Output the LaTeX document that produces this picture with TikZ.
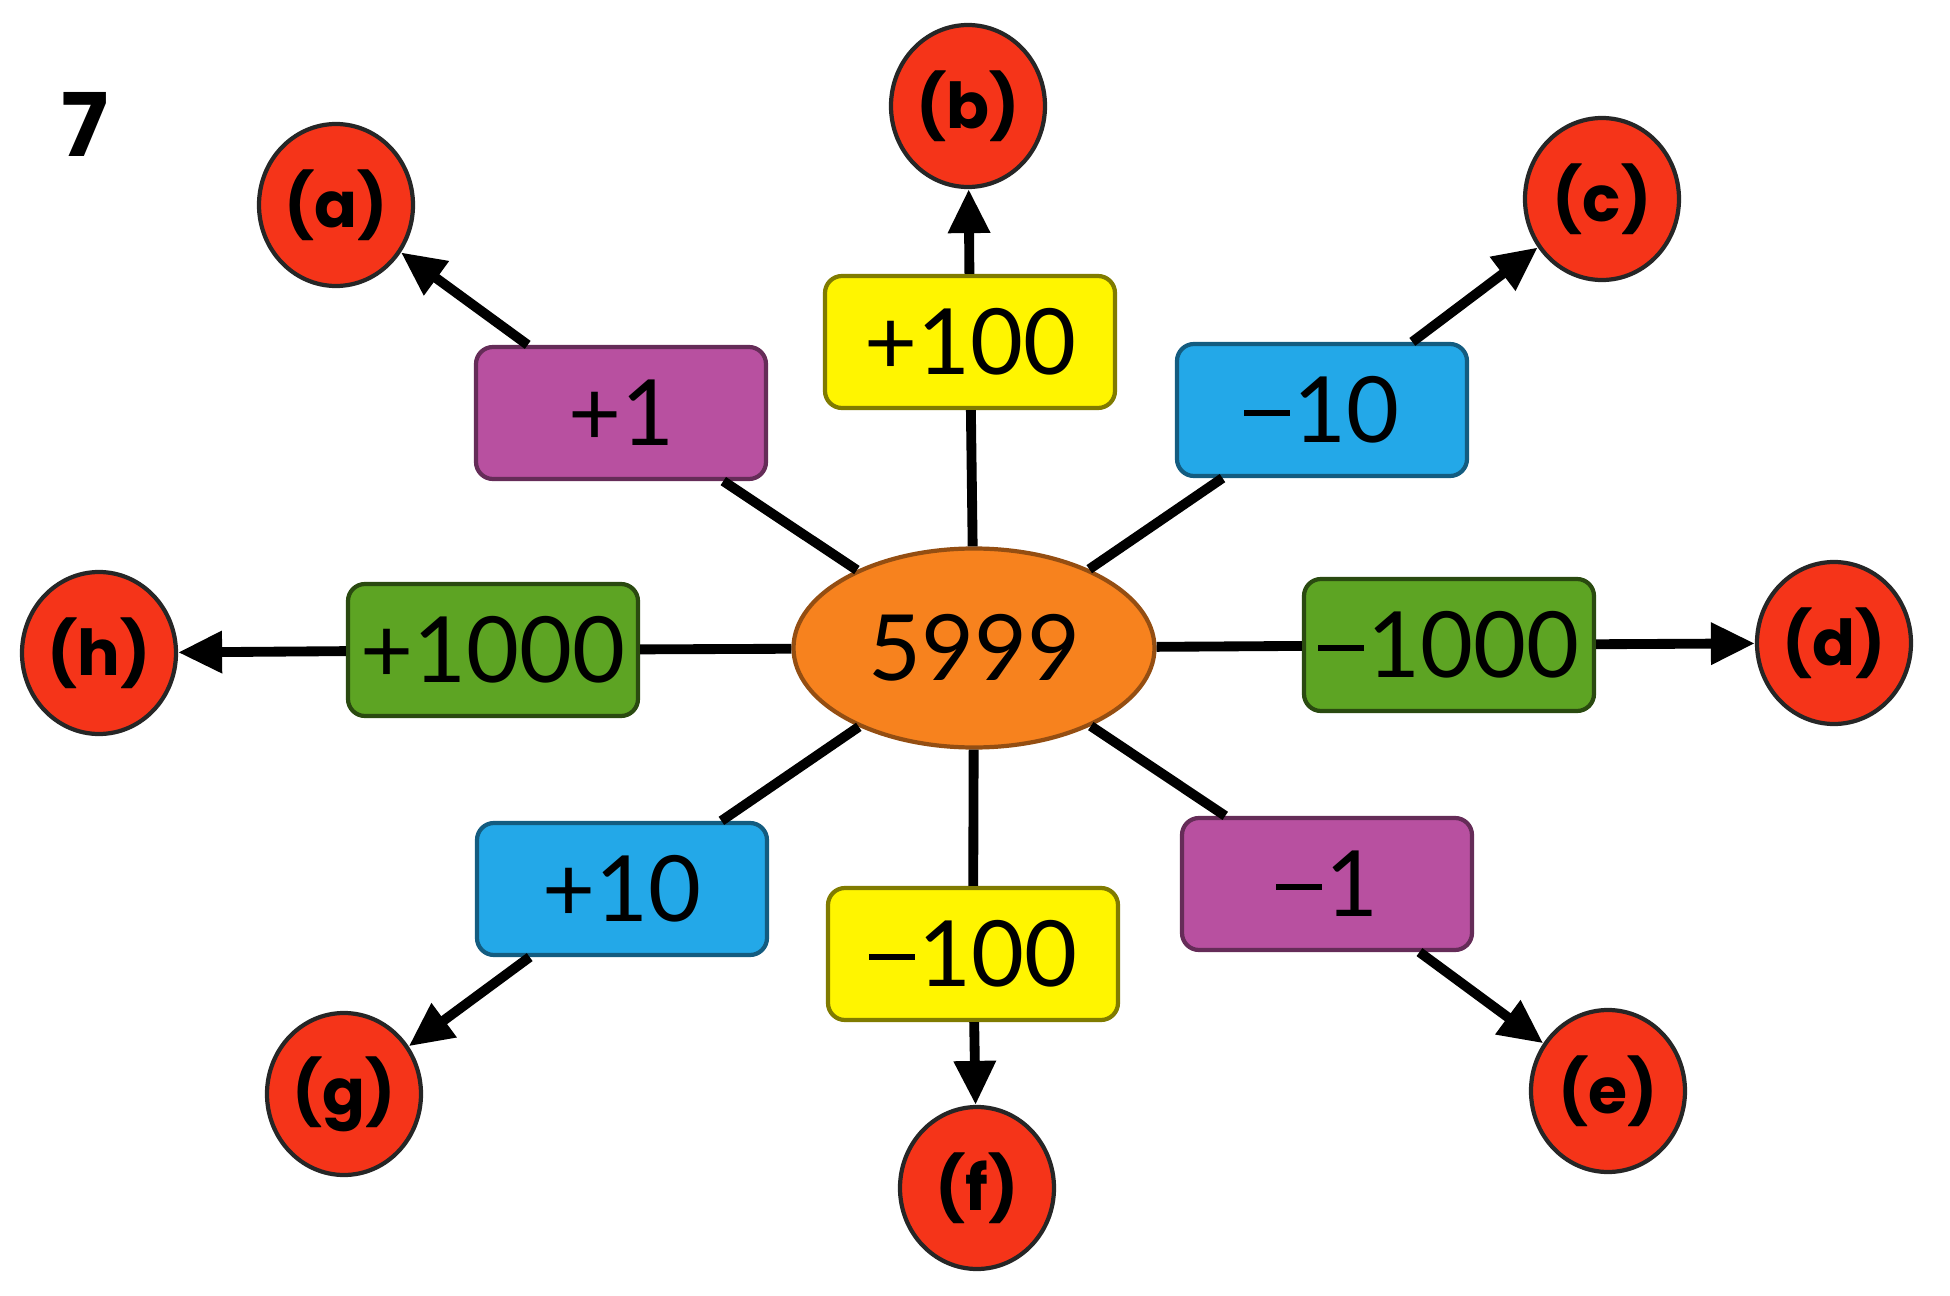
\documentclass[tikz,border=0pt]{standalone}
\usepackage{fontspec}
\setmainfont{Lato}
\newfontfamily\circfont{Poppins}
\usetikzlibrary{arrows.meta,positioning,shapes.geometric}
\definecolor{redfill}{RGB}{245,52,25}
\definecolor{orangefill}{RGB}{247,130,30}
\definecolor{purplefill}{RGB}{184,80,160}
\definecolor{yellowfill}{RGB}{255,245,0}
\definecolor{bluefill}{RGB}{35,168,232}
\definecolor{greenfill}{RGB}{93,164,35}
\newcommand{\mns}{\raisebox{0.29em}{\rule{0.5em}{0.07em}}\hspace{0.04em}}

\begin{document}
\begin{tikzpicture}[->, >={Triangle[length=4.4mm,width=4mm]}, line width=2.8pt]
\tikzstyle{answer}=[ellipse,fill=redfill,draw=black!85,line width=1.2pt,minimum width=1.54cm,minimum height=1.62cm,inner sep=0pt,font=\circfont\bfseries\fontsize{18}{18}\selectfont]
\tikzstyle{change}=[rectangle,rounded corners=0.17cm,line width=1.2pt,minimum width=2.9cm,minimum height=1.32cm,font=\fontsize{26}{26}\selectfont]
\tikzstyle{start}=[ellipse,fill=orangefill,draw=orangefill!60!black,line width=1.2pt,minimum width=3.61cm,minimum height=1.99cm,font=\fontsize{26}{26}\selectfont]
\useasboundingbox (0,0) rectangle (19.5,-12.96);
\node[font=\circfont\bfseries\fontsize{25}{25}\selectfont] (Q) at (0.85,-1.24) {7};
\node[start]    (S)     at (9.74,-6.48)   {5999};
% answer circles
\node[answer]   (A)     at (3.36,-2.05)   {(a)};
\node[answer]   (B)     at (9.68,-1.06)   {(b)};
\node[answer]   (C)     at (16.02,-1.99)  {(c)};
\node[answer]   (D)     at (18.34,-6.43)  {(d)};
\node[answer]   (E)     at (16.08,-10.91) {(e)};
\node[answer]   (F)     at (9.77,-11.88)  {(f)};
\node[answer]   (G)     at (3.44,-10.94)  {(g)};
\node[answer]   (H)     at (0.99,-6.53)   {(h)};
% steps
\node[change,fill=purplefill,draw=purplefill!55!black] (P1)    at (6.21,-4.13)  {+1};
\node[change,fill=yellowfill,draw=yellowfill!50!black] (P100)  at (9.70,-3.42)  {+100};
\node[change,fill=bluefill,draw=bluefill!55!black]     (M10)   at (13.22,-4.10) {\mns10};
\node[change,fill=greenfill,draw=greenfill!45!black]   (M1000) at (14.49,-6.45) {\mns1000};
\node[change,fill=purplefill,draw=purplefill!55!black] (M1)    at (13.27,-8.84) {\mns1};
\node[change,fill=yellowfill,draw=yellowfill!50!black] (M100)  at (9.73,-9.54)  {\mns100};
\node[change,fill=bluefill,draw=bluefill!55!black]     (P10)   at (6.22,-8.89)  {+10};
\node[change,fill=greenfill,draw=greenfill!45!black]   (P1000) at (4.93,-6.50)  {+1000};
\path
(S) edge[-] (P1)
    edge[-] (P100)
    edge[-] (M10)
    edge[-] (M1000)
    edge[-] (M1)
    edge[-] (M100)
    edge[-] (P10)
    edge[-] (P1000)
(P1)    edge (A)
(P100)  edge (B)
(M10)   edge (C)
(M1000) edge (D)
(M1)    edge (E)
(M100)  edge (F)
(P10)   edge (G)
(P1000) edge (H);
\end{tikzpicture}
\end{document}
